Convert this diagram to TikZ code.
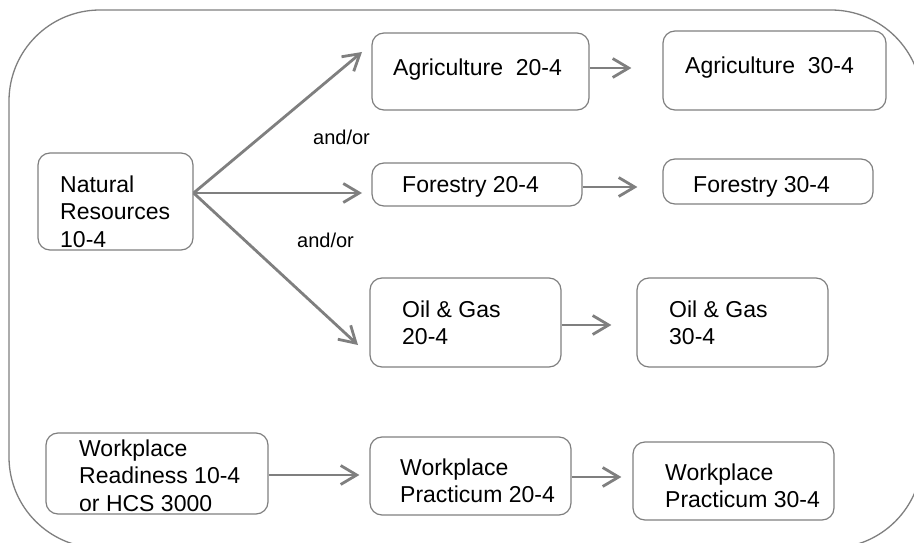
\documentclass[tikz,border=0pt]{standalone}
\usepackage{fontspec}
\setmainfont{Liberation Sans}
\usetikzlibrary{arrows.meta}
\definecolor{linegray}{HTML}{7F7F7F}
\tikzset{
  box/.style={draw=linegray, line width=1.2pt, rounded corners=12pt, inner sep=0pt, rectangle},
  txt/.style={anchor=north west, inner sep=0pt, align=left, font=\fontsize{23}{27.5}\selectfont},
  lbl/.style={anchor=base west, inner sep=0pt, font=\fontsize{20}{24}\selectfont},
  arr/.style={draw=linegray, line width=2.8pt, -{Straight Barb[length=16pt,width=19pt]}},
  frame/.style={draw=linegray, line width=1.3pt, rounded corners=91pt}
}
\begin{document}
\begin{tikzpicture}[x=1pt,y=-1pt]
\useasboundingbox (0,0) rectangle (914,543);
\draw[frame] (9,10) rectangle (922,548);

% boxes
\node[box, minimum width=155pt, minimum height=97pt] (nr) at (115.5,201.5) {};
\node[box, minimum width=217pt, minimum height=77pt] (agri20) at (480.5,71.5) {};
\node[box, minimum width=210pt, minimum height=43pt] (for20) at (477,184.5) {};
\node[box, minimum width=223pt, minimum height=79pt] (agri30) at (774.5,70.5) {};
\node[box, minimum width=210pt, minimum height=45pt] (for30) at (768,181.5) {};
\node[box, minimum width=191pt, minimum height=89pt] (oil20) at (465.5,322.5) {};
\node[box, minimum width=191pt, minimum height=89pt] (oil30) at (732.5,322.5) {};
\node[box, minimum width=222pt, minimum height=81pt] (wr) at (157,473.5) {};
\node[box, minimum width=201pt, minimum height=78pt] (wp20) at (470.5,476) {};
\node[box, minimum width=201pt, minimum height=78pt] (wp30) at (733.5,481) {};

% texts
\node[txt] (tnr) at (60,175.5) {Natural\\Resources\\10-4};
\node[txt] (tagri20) at (393,58.5) {Agriculture\ \ 20-4};
\node[txt] (tfor20) at (402,176.5) {Forestry 20-4};
\node[txt] (tagri30) at (685,56.5) {Agriculture\ \ 30-4};
\node[txt] (tfor30) at (693,176.5) {Forestry 30-4};
\node[txt] (toil20) at (402,300.5) {Oil \& Gas\\20-4};
\node[txt] (toil30) at (669,300.5) {Oil \& Gas\\30-4};
\node[txt] (twr) at (79,439.5) {Workplace\\Readiness 10-4\\or HCS 3000};
\node[txt] (twp20) at (400,458.5) {Workplace\\Practicum 20-4};
\node[txt] (twp30) at (665,463.5) {Workplace\\Practicum 30-4};
\node[lbl] (andor1) at (313,145) {and/or};
\node[lbl] (andor2) at (297,247) {and/or};

% arrow ends
\coordinate (nrout) at ([yshift=8.5pt]nr.east);
\coordinate (tipA) at (362,52);
\coordinate (tipF) at (362,193);
\coordinate (tipO) at (358,345);

\draw[arr] (nrout) -- (tipA);
\draw[arr] (nrout) -- (tipF);
\draw[arr] (nrout) -- (tipO);

\draw[arr, shorten >=31pt] ([yshift=3.5pt]agri20.east) -- ([yshift=2.5pt]agri30.west);
\draw[arr, shorten >=25pt] ([yshift=-2.5pt]for20.east) -- ([yshift=-5.5pt]for30.west);
\draw[arr, shorten >=25pt] ([yshift=-2.5pt]oil20.east) -- ([yshift=-2.5pt]oil30.west);
\draw[arr, shorten >=10pt] ([yshift=-1.5pt]wr.east) -- ([yshift=1pt]wp20.west);
\draw[arr, shorten >=11pt] ([yshift=-1pt]wp20.east) -- ([yshift=4pt]wp30.west);
\end{tikzpicture}
\end{document}
